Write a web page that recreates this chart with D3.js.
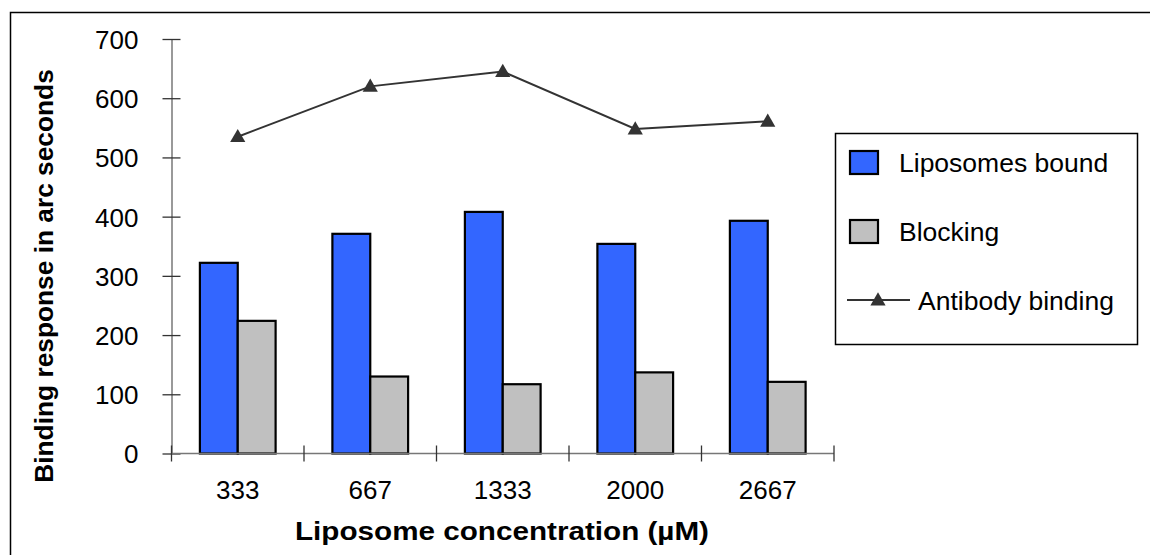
<!DOCTYPE html>
<html>
<head>
<meta charset="utf-8">
<script src="https://cdn.jsdelivr.net/npm/d3@7"></script>
<style>
  html, body { margin: 0; padding: 0; background: #fff; }
  svg { display: block; }
  text { font-family: "Liberation Sans", Arial, sans-serif; fill: #000; }
</style>
</head>
<body>
<svg id="chart" width="1150" height="555"></svg>
<script>
// Liposome binding data
const concentrations = ["333", "667", "1333", "2000", "2667"];
const liposomesBound = [322, 371, 408, 354, 393];
const blocking = [224, 130, 117, 137, 121];
const antibodyBinding = [535, 620, 645, 548, 561];
const yTicks = [0, 100, 200, 300, 400, 500, 600, 700];
const seriesNames = ["Liposomes bound", "Blocking", "Antibody binding"];
const barColors = ["#3366FF", "#C0C0C0"];

const svg = d3.select("#chart");

// outer frame
svg.append("rect")
  .attr("x", 10.5).attr("y", 12.5)
  .attr("width", 1160).attr("height", 560)
  .attr("fill", "none").attr("stroke", "#000").attr("stroke-width", 1.5);

const plot = { left: 171.5, right: 834, top: 39, bottom: 453.5 };

const x = d3.scaleBand().domain(concentrations)
  .range([plot.left, plot.right]).paddingInner(0).paddingOuter(0);
const y = d3.scaleLinear().domain([0, 700]).range([plot.bottom, plot.top]);

// bars: gap width of 150% of a bar
const barW = x.bandwidth() / 3.5;
const groupOff = (x.bandwidth() - 2 * barW) / 2;

const barSeries = [liposomesBound, blocking];
barSeries.forEach((vals, si) => {
  svg.append("g").selectAll("rect")
    .data(vals)
    .join("rect")
    .attr("x", (d, i) => x(concentrations[i]) + groupOff + si * barW)
    .attr("y", d => y(d))
    .attr("width", barW)
    .attr("height", d => y(0) - y(d))
    .attr("fill", barColors[si])
    .attr("stroke", "#000")
    .attr("stroke-width", 2.2);
});

// y axis
const yAxis = d3.axisLeft(y).tickValues(yTicks).tickSize(0).tickPadding(0).tickFormat(d3.format("d"));
const gy = svg.append("g").attr("transform", `translate(${plot.left},0)`).call(yAxis);
gy.select(".domain").attr("stroke", "#777").attr("stroke-width", 1.5);
gy.selectAll(".tick line").remove();
gy.selectAll(".tick").append("line")
  .attr("x1", -9).attr("x2", 9).attr("stroke", "#333").attr("stroke-width", 1.3);
gy.selectAll(".tick text")
  .attr("x", -33).attr("dy", "0.36em")
  .style("font-size", "26px").style("font-family", "Liberation Sans, Arial, sans-serif");

// x axis
const gx = svg.append("g").attr("transform", `translate(0,${plot.bottom})`);
gx.append("line").attr("x1", plot.left).attr("x2", plot.right)
  .attr("stroke", "#777").attr("stroke-width", 1.5);
const bounds = concentrations.map(c => x(c)).concat([plot.right]);
gx.selectAll("line.tk").data(bounds).join("line").attr("class", "tk")
  .attr("x1", d => d).attr("x2", d => d).attr("y1", -8).attr("y2", 8)
  .attr("stroke", "#333").attr("stroke-width", 1.3);
gx.selectAll("text").data(concentrations).join("text")
  .attr("x", d => x(d) + x.bandwidth() / 2)
  .attr("y", 45.5)
  .attr("text-anchor", "middle")
  .style("font-size", "26px")
  .text(d => d);

// antibody binding line
const cx = (i) => x(concentrations[i]) + x.bandwidth() / 2;
const line = d3.line().x((d, i) => cx(i)).y(d => y(d));
svg.append("path").datum(antibodyBinding)
  .attr("d", line).attr("fill", "none")
  .attr("stroke", "#333").attr("stroke-width", 2);
const tri = d3.symbol().type(d3.symbolTriangle).size(100);
svg.append("g").selectAll("path").data(antibodyBinding).join("path")
  .attr("d", tri)
  .attr("transform", (d, i) => `translate(${cx(i)},${y(d) + 1})`)
  .attr("fill", "#333");

// axis titles
svg.append("text")
  .attr("x", 502).attr("y", 540)
  .attr("text-anchor", "middle")
  .attr("textLength", 414).attr("lengthAdjust", "spacingAndGlyphs")
  .style("font-size", "25px").style("font-weight", "bold")
  .text("Liposome concentration (µM)");
svg.append("text")
  .attr("transform", "translate(53,276) rotate(-90)")
  .attr("text-anchor", "middle")
  .style("font-size", "26.3px").style("font-weight", "bold")
  .text("Binding response in arc seconds");

// legend
const lg = svg.append("g");
lg.append("rect").attr("x", 835.5).attr("y", 133.5).attr("width", 302).attr("height", 211)
  .attr("fill", "#fff").attr("stroke", "#000").attr("stroke-width", 1.5);
const rowsY = [162, 231, 300];
[0, 1].forEach(i => {
  lg.append("rect").attr("x", 850).attr("y", rowsY[i] - 11).attr("width", 28).attr("height", 23)
    .attr("fill", barColors[i]).attr("stroke", "#000").attr("stroke-width", 2.2);
});
lg.append("line").attr("x1", 847).attr("x2", 910).attr("y1", rowsY[2]).attr("y2", rowsY[2])
  .attr("stroke", "#333").attr("stroke-width", 2);
lg.append("path").attr("d", tri).attr("transform", `translate(878,${rowsY[2] + 1})`).attr("fill", "#333");
const textX = [899, 899, 918];
seriesNames.forEach((name, i) => {
  lg.append("text").attr("x", textX[i]).attr("y", rowsY[i]).attr("dy", "0.36em")
    .style("font-size", "26.5px").text(name);
});
</script>
</body>
</html>
